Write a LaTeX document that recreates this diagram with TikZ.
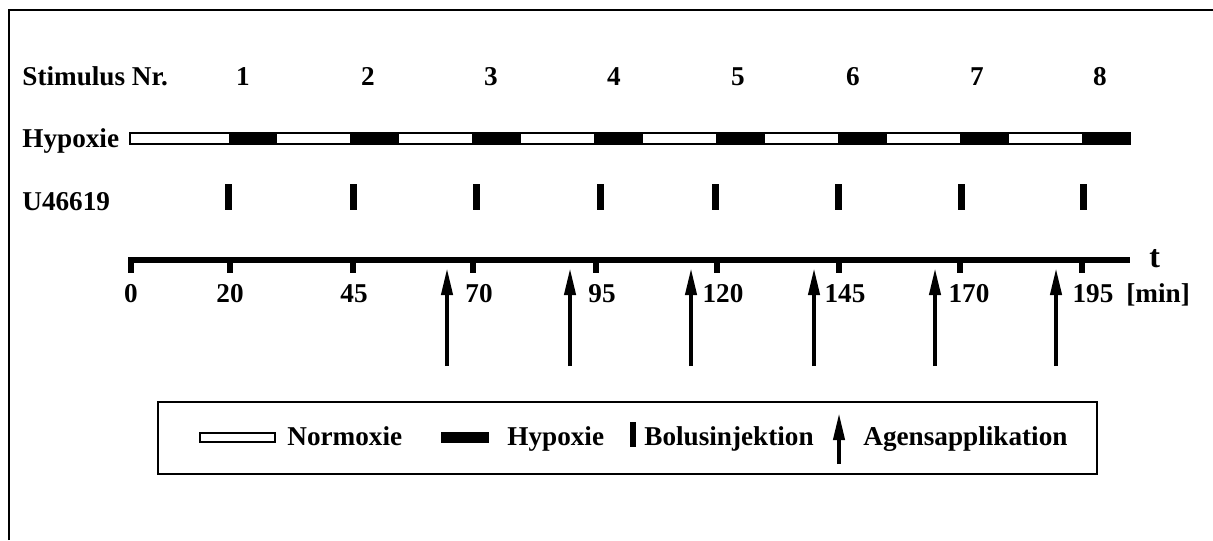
\documentclass[tikz,border=0pt]{standalone}
\usepackage{fontspec}
\setmainfont{Liberation Serif}
\usetikzlibrary{arrows.meta}
\begin{document}
\begin{tikzpicture}[x=0.5pt,y=-0.5pt,
  txt/.style={inner sep=0pt, font=\fontsize{13.6}{16}\selectfont\bfseries},
  bigtxt/.style={inner sep=0pt, font=\fontsize{16}{18}\selectfont\bfseries},
  normbar/.style={draw=black, fill=white, line width=0.6pt},
  hypbar/.style={fill=black},
  bolus/.style={fill=black},
  frameline/.style={line width=1pt},
  axisline/.style={line width=3pt},
  agens/.style={line width=2pt, -{Triangle[length=13.5pt,width=5.5pt]}},
]
\useasboundingbox (0,0) rectangle (1213,540);
% outer frame (top and left only)
\draw[frameline] (9,540) -- (9,10) -- (1213,10);

% row labels
\node[txt, anchor=base west] (lstim) at (22,85) {Stimulus Nr.};
\node[txt, anchor=base west] (lhyp) at (22,147) {Hypoxie};
\node[txt, anchor=base west] (lu) at (22,210) {U46619};

% stimulus numbers
\foreach \n/\x in {1/243,2/368,3/491,4/614,5/738,6/853,7/977,8/1100}
  \node[txt, anchor=base] (s\n) at (\x,85) {\n};

% hypoxia bar
\draw[normbar] (130,133) rectangle (1130,144);
\foreach \t in {20,45,70,95,120,145,170,195}
  \fill[hypbar] ({131+4.877*\t},133) rectangle ({min(131+4.877*(\t+10),1130)},144);
\draw[normbar, fill=none] (130,133) rectangle (1130,144);

% bolus marks
\foreach \x in {228,353,476,600,715,838,961,1083}
  \fill[bolus] (\x-3.5,184) rectangle (\x+3.5,210);

% time axis
\coordinate (ax0) at (128,260);
\coordinate (ax1) at (1130,260);
\draw[axisline] (ax0) -- (ax1);
\foreach \x in {131,230,353,473,596,717,839,960,1082}
  \fill (\x-3,260) rectangle (\x+3,273);
\foreach \l/\x in {0/131,20/230,45/354,70/479,95/602,120/723,145/845,170/969,195/1093}
  \node[txt, anchor=base] (tl\l) at (\x,302) {\l};
\node[bigtxt, anchor=base west] (tlab) at (1149,267) {t};
\node[txt, anchor=base west] (unit) at (1126,302) {[min]};

% agent application arrows
\foreach \i/\x in {1/447,2/570,3/691,4/814,5/935,6/1056}{
  \coordinate (a\i s) at (\x,366);
  \coordinate (a\i e) at (\x,268);
  \draw[agens] (a\i s) -- (a\i e);
}

% legend
\draw[frameline] (158,402) rectangle (1097,474);
\draw[normbar] (200,433) rectangle (275,442);
\node[txt, anchor=base west] (gnorm) at (287,445) {Normoxie};
\fill[hypbar] (441,432) rectangle (489,443);
\node[txt, anchor=base west] (ghyp) at (507,445) {Hypoxie};
\fill[bolus] (630,422) rectangle (636,447);
\node[txt, anchor=base west] (gbol) at (644,445) {Bolusinjektion};
\coordinate (gas) at (839,464);
\coordinate (gae) at (839,413);
\draw[agens] (gas) -- (gae);
\node[txt, anchor=base west] (gag) at (863,445) {Agensapplikation};
\end{tikzpicture}
\end{document}
